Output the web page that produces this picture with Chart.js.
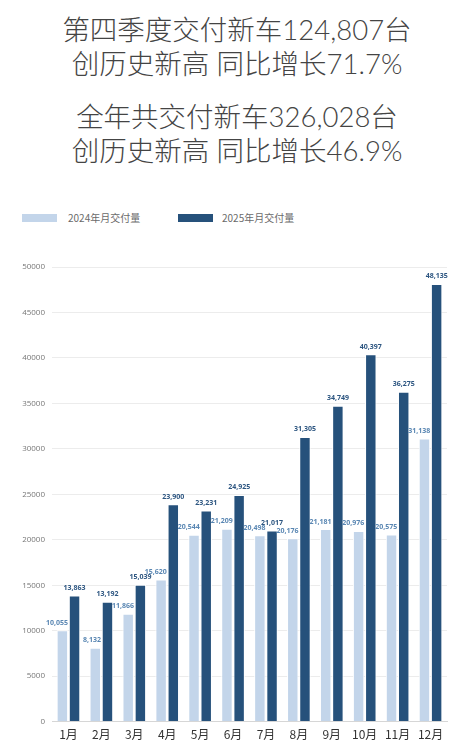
<!DOCTYPE html>
<html>
<head>
<meta charset="utf-8">
<script src="https://cdn.jsdelivr.net/npm/chart.js@4"></script>
<style>
  html,body{margin:0;padding:0;background:#fff;}
  body{width:474px;height:750px;overflow:hidden;font-family:"Noto Sans CJK SC","Noto Sans",sans-serif;}
  .head{position:absolute;left:0;width:474px;text-align:center;color:#444;font-family:"Lato","Noto Sans CJK SC",sans-serif;font-size:27.5px;font-weight:300;line-height:34px;}
  .legend{position:absolute;top:211px;left:22px;font-size:10px;color:#6a6a6a;}
  .legend span{position:absolute;top:0;white-space:nowrap;line-height:14px;}
  .legend i{position:absolute;top:3px;width:35px;height:8px;}
  #wrap{position:absolute;top:240px;left:0;width:474px;height:510px;}
</style>
</head>
<body>
<div class="head" style="top:13px">第四季度交付新车124,807台<br>创历史新高 同比增长71.7%</div>
<div class="head" style="top:100px">全年共交付新车326,028台<br>创历史新高 同比增长46.9%</div>
<div class="legend">
  <i style="left:0;background:#c3d5ea"></i><span style="left:46px">2024年月交付量</span>
  <i style="left:156px;background:#26517b"></i><span style="left:200px">2025年月交付量</span>
</div>
<div id="wrap"><canvas id="deliveryChart"></canvas></div>

<script>
/* ===============================
   DATA
================================ */

const months = ["1月","2月","3月","4月","5月","6月","7月","8月","9月","10月","11月","12月"];
const deliveries2024 = [10055,8132,11866,15620,20544,21209,20498,20176,21181,20976,20575,31138];
const deliveries2025 = [13863,13192,15039,23900,23231,24925,21017,31305,34749,40397,36275,48135];
const yTicks = [0,5000,10000,15000,20000,25000,30000,35000,40000,45000,50000];


/* VALUE LABELS ABOVE BARS */
const barValues = {
  id:"barValues",
  afterDatasetsDraw(chart){
    const ctx = chart.ctx;
    ctx.save();
    ctx.font = "bold 7px 'Open Sans', sans-serif";
    ctx.textBaseline = "bottom";
    chart.data.datasets.forEach((ds,i)=>{
      ctx.fillStyle = ds.labelColor;
      ctx.textAlign = ds.labelAlign;
      chart.getDatasetMeta(i).data.forEach((bar,j)=>{
        const x = ds.labelAlign === "right" ? bar.x + bar.width/2 : bar.x;
        ctx.fillText(ds.data[j].toLocaleString("en-US"), x, bar.y - 4);
      });
    });
    ctx.restore();
  }
};


/* CHART */
new Chart(document.getElementById("deliveryChart"),{
  type:"bar",
  data:{
    labels:months,
    datasets:[
      {
        label:"2024年月交付量",
        data:deliveries2024,
        backgroundColor:"#c3d5ea",
        borderColor:"#ffffff",
        borderWidth:1,
        labelColor:"#5a87b3",
        labelAlign:"right",
        barPercentage:0.94,
        categoryPercentage:0.74
      },
      {
        label:"2025年月交付量",
        data:deliveries2025,
        backgroundColor:"#26517b",
        borderColor:"#ffffff",
        borderWidth:1,
        labelColor:"#2c5580",
        labelAlign:"center",
        barPercentage:0.94,
        categoryPercentage:0.74
      }
    ]
  },
  options:{
    responsive:true,
    maintainAspectRatio:false,
    animation:false,
    layout:{padding:{top:27,right:27,bottom:2,left:0}},
    plugins:{
      legend:{display:false},
      tooltip:{enabled:false}
    },
    scales:{
      x:{
        grid:{display:false,drawTicks:false},
        border:{color:"#d6d6d6"},
        ticks:{
          color:"#333",
          padding:6,
          font:{size:12,family:"'Noto Sans CJK SC', sans-serif"}
        }
      },
      y:{
        min:0,
        max:50000,
        afterBuildTicks(scale){
          scale.ticks = yTicks.map(v=>({value:v}));
        },
        afterFit(scale){ scale.width = 52; },
        grid:{color:"#ececec",drawTicks:false},
        border:{display:false},
        ticks:{
          color:"#777",
          padding:7,
          font:{size:8,family:"'Open Sans', sans-serif"},
          callback:(v)=>String(v)
        }
      }
    }
  },
  plugins:[barValues]
});
</script>
</body>
</html>
